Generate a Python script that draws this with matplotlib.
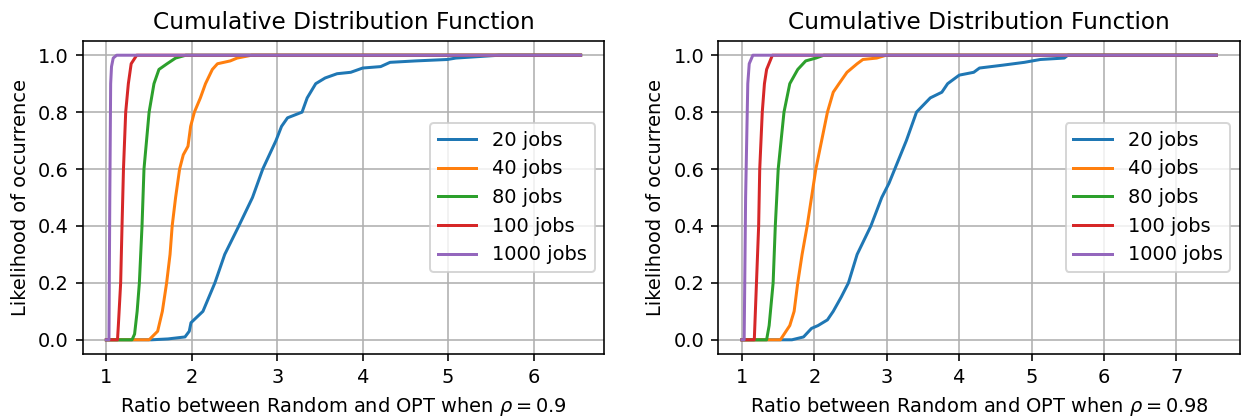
import matplotlib
matplotlib.use("Agg")
import matplotlib.pyplot as plt

labels = ["20 jobs", "40 jobs", "80 jobs", "100 jobs", "1000 jobs"]
colors = ["#1f77b4", "#ff7f0e", "#2ca02c", "#d62728", "#9467bd"]

# Left panel (rho = 0.9): CDF knots (x, y) per series
l_x_20 = [1.0, 1.53, 1.72, 1.92, 1.97, 1.99, 2.13, 2.27, 2.385, 2.55, 2.71, 2.83, 2.985, 3.05,
          3.12, 3.29, 3.35, 3.45, 3.56, 3.70, 3.86, 4.0, 4.21, 4.32, 4.62, 4.99, 5.09, 5.6, 6.55]
l_y_20 = [0.0, 0.0, 0.003, 0.01, 0.03, 0.06, 0.1, 0.2, 0.3, 0.4, 0.5, 0.6, 0.7, 0.75,
          0.78, 0.8, 0.85, 0.9, 0.92, 0.935, 0.94, 0.955, 0.96, 0.975, 0.98, 0.985, 0.99, 1.0, 1.0]
l_x_40 = [1.0, 1.50, 1.6, 1.655, 1.705, 1.745, 1.77, 1.81, 1.857, 1.90, 1.955, 1.986, 2.03,
          2.10, 2.16, 2.24, 2.30, 2.45, 2.53, 2.70, 6.55]
l_y_40 = [0.0, 0.0, 0.03, 0.1, 0.2, 0.3, 0.4, 0.5, 0.6, 0.65, 0.68, 0.75, 0.8,
          0.85, 0.9, 0.95, 0.97, 0.98, 0.99, 1.0, 1.0]
l_x_80 = [1.0, 1.30, 1.33, 1.36, 1.386, 1.417, 1.44, 1.47, 1.50, 1.557, 1.615, 1.71, 1.81, 1.93, 6.55]
l_y_80 = [0.0, 0.0, 0.02, 0.1, 0.2, 0.4, 0.6, 0.7, 0.8, 0.9, 0.95, 0.97, 0.99, 1.0, 1.0]
l_x_100 = [1.0, 1.13, 1.14, 1.167, 1.183, 1.2, 1.226, 1.257, 1.29, 1.355, 6.55]
l_y_100 = [0.0, 0.0, 0.05, 0.2, 0.4, 0.6, 0.8, 0.9, 0.97, 1.0, 1.0]
l_x_1000 = [1.0, 1.03, 1.04, 1.05, 1.06, 1.08, 1.12, 6.55]
l_y_1000 = [0.0, 0.0, 0.5, 0.9, 0.96, 0.99, 1.0, 1.0]

# Right panel (rho = 0.98)
r_x_20 = [1.0, 1.69, 1.85, 1.96, 2.05, 2.18, 2.26, 2.37, 2.47, 2.59, 2.78, 2.93, 3.03, 3.11,
          3.27, 3.41, 3.60, 3.76, 3.84, 4.0, 4.20, 4.28, 4.60, 4.90, 5.12, 5.45, 5.50, 7.55]
r_y_20 = [0.0, 0.0, 0.01, 0.04, 0.05, 0.07, 0.1, 0.15, 0.2, 0.3, 0.4, 0.5, 0.55, 0.6,
          0.7, 0.8, 0.85, 0.87, 0.9, 0.93, 0.94, 0.955, 0.965, 0.975, 0.985, 0.99, 1.0, 1.0]
r_x_40 = [1.0, 1.53, 1.66, 1.72, 1.77, 1.83, 1.90, 1.96, 2.02, 2.10, 2.18, 2.26, 2.34, 2.45,
          2.59, 2.67, 2.86, 2.99, 7.55]
r_y_40 = [0.0, 0.0, 0.05, 0.1, 0.2, 0.3, 0.4, 0.5, 0.6, 0.7, 0.8, 0.87, 0.9, 0.94,
          0.97, 0.985, 0.99, 1.0, 1.0]
r_x_80 = [1.0, 1.34, 1.375, 1.43, 1.46, 1.50, 1.54, 1.58, 1.66, 1.77, 1.88, 2.02, 2.13, 7.55]
r_y_80 = [0.0, 0.0, 0.05, 0.2, 0.4, 0.6, 0.7, 0.8, 0.9, 0.95, 0.98, 0.99, 1.0, 1.0]
r_x_100 = [1.0, 1.17, 1.20, 1.23, 1.245, 1.28, 1.31, 1.34, 1.42, 7.55]
r_y_100 = [0.0, 0.0, 0.2, 0.4, 0.6, 0.8, 0.9, 0.95, 1.0, 1.0]
r_x_1000 = [1.0, 1.03, 1.05, 1.08, 1.10, 1.15, 7.55]
r_y_1000 = [0.0, 0.0, 0.5, 0.9, 0.97, 1.0, 1.0]

title = "Cumulative Distribution Function"
ylabel = "Likelihood of occurrence"
xlabels = [r"Ratio between Random and OPT when $\rho=0.9$",
           r"Ratio between Random and OPT when $\rho=0.98$"]

panels = [
    [(l_x_20, l_y_20), (l_x_40, l_y_40), (l_x_80, l_y_80), (l_x_100, l_y_100), (l_x_1000, l_y_1000)],
    [(r_x_20, r_y_20), (r_x_40, r_y_40), (r_x_80, r_y_80), (r_x_100, r_y_100), (r_x_1000, r_y_1000)],
]

plt.rcParams["font.size"] = 9.7

DPI = 144
fig = plt.figure(figsize=(1247 / DPI, 420 / DPI), dpi=DPI)
axes = [fig.add_axes([0.0663, 0.1571, 0.4183, 0.7453]),
        fig.add_axes([0.5760, 0.1571, 0.4184, 0.7453])]

for ax, series, xl in zip(axes, panels, xlabels):
    for (xs, ys), lab, c in zip(series, labels, colors):
        ax.plot(xs, ys, color=c, label=lab, linewidth=1.5)
    ax.set_title(title)
    ax.set_ylabel(ylabel)
    ax.set_xlabel(xl)
    ax.grid(True)
    ax.legend(loc="center right")

fig.savefig("out.png", dpi=DPI)
